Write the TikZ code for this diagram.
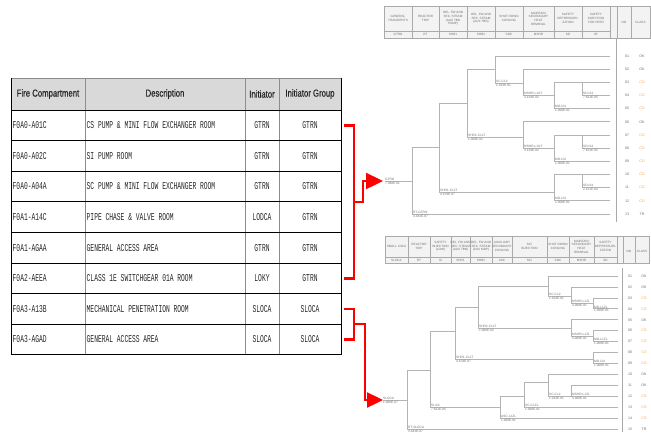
\documentclass[tikz,border=0pt]{standalone}
\usepackage{fontspec}
\setmainfont{Liberation Sans}
\newfontfamily\cellfont[FakeStretch=0.6]{Liberation Mono}
\newfontfamily\hdrfont[FakeStretch=0.76,FakeBold=0.5]{Liberation Sans}
\usetikzlibrary{arrows.meta}
\definecolor{hdrfill}{HTML}{D9D9D9}
\definecolor{colline}{HTML}{8C8C8C}
\definecolor{treeline}{HTML}{B4B4B4}
\definecolor{treetext}{HTML}{6E6E6E}
\definecolor{etfill}{HTML}{F3F3F3}
\definecolor{etline}{HTML}{AAAAAA}
\definecolor{cdorange}{HTML}{F2A65A}
\definecolor{linkred}{HTML}{FF0000}
\tikzset{
 hdrtext/.style={font={\hdrfont\fontsize{10.2}{12}\selectfont}, text=black!85, inner sep=0pt},
 celltext/.style={font={\cellfont\fontsize{10.5}{12}\selectfont}, text=black!85, inner sep=0pt},
 tl/.style={font={\fontsize{3.2}{3.4}\selectfont}, text=treetext, inner sep=0pt},
 seqtext/.style={font={\fontsize{3.6}{4}\selectfont}, text=treetext, inner sep=0pt},
 th/.style={font={\fontsize{3.1}{3.7}\selectfont}, text=treetext, inner sep=0pt, align=center},
 tline/.style={draw=treeline, line width=0.8pt, line cap=rect},
 hline/.style={draw=etline, line width=0.5pt},
 redlink/.style={draw=linkred, line width=2.4pt},
}
\newcommand\brlab[5]{%
 \node[tl,anchor=south west] (#1a) at (#2+1,#3-0.6) {#4};
 \node[tl,anchor=north west] (#1b) at (#2+1,#3+0.7) {#5};}
\begin{document}
\begin{tikzpicture}[x=1pt,y=-1pt]
\useasboundingbox (0,0) rectangle (651,432);

% ---------------- left table ----------------
\fill[hdrfill] (11,78) rectangle (341,110);
\foreach \xx in {85,245,279} \draw[colline, line width=1pt] (\xx,78) -- (\xx,355);
\foreach \yy in {110,140.6,171.2,201.8,232.4,263,293.6,324.2,354.8}
  \draw[black, line width=0.8pt] (11,\yy) -- (341,\yy);
\draw[colline, line width=0.6pt] (11,78) -- (341,78);
\draw[black, line width=0.6pt] (11,78) -- (11,355) (341,78) -- (341,355);

\node[hdrtext] (h1) at (48,94) {Fire Compartment};
\node[hdrtext] (h2) at (165,94) {Description};
\node[hdrtext] (h3) at (262,94) {Initiator};
\node[hdrtext] (h4) at (310,94) {Initiator Group};

\foreach \fc/\desc/\ini/\grp [count=\i] in {
  F0A0-A01C/{CS PUMP \& MINI FLOW EXCHANGER ROOM}/GTRN/GTRN,
  F0A0-A02C/{SI PUMP ROOM}/GTRN/GTRN,
  F0A0-A04A/{SC PUMP \& MINI FLOW EXCHANGER ROOM}/GTRN/GTRN,
  F0A1-A14C/{PIPE CHASE \& VALVE ROOM}/LODCA/GTRN,
  F0A1-AGAA/{GENERAL ACCESS AREA}/GTRN/GTRN,
  F0A2-AEEA/{CLASS 1E SWITCHGEAR 01A ROOM}/LOKY/GTRN,
  F0A3-A13B/{MECHANICAL PENETRATION ROOM}/SLOCA/SLOCA,
  F0A3-AGAD/{GENERAL ACCESS AREA}/SLOCA/SLOCA}{
  \pgfmathsetmacro\yc{125.3+(\i-1)*30.6}
  \node[celltext, anchor=west] (fc\i) at (12.5,\yc) {\fc};
  \node[celltext, anchor=west] (ds\i) at (86.5,\yc) {\desc};
  \node[celltext] (in\i) at (262,\yc) {\ini};
  \node[celltext] (gr\i) at (310,\yc) {\grp};
}

% ---------------- top event tree header ----------------
\fill[etfill] (384,6) rectangle (650,38);
\draw[hline] (384,6) rectangle (650,38);
\draw[hline] (384,31) -- (610,31);
\foreach \xx in {412,439,467,495,523,554,582,610,617,631} \draw[hline] (\xx,6) -- (\xx,38);
\foreach \xc/\txt/\code [count=\i] in {
  398/{GENERAL\\TRANSIENTS}/GTRN,
  425.5/{REACTOR\\TRIP}/RT,
  453/{DEL. FW AND\\SEC. STEAM\\(AUX TBN\\PUMP)}/SHR1,
  481/{DEL. FW AND\\SEC. STEAM\\(AUX TBN)}/SHR2,
  509/{SHUT DOWN\\COOLING}/SDC,
  538.5/{MAINTAIN\\SECONDARY\\HEAT\\REMOVAL}/MSHR,
  568/{SAFETY\\DEPRESSURI-\\ZATION}/SD,
  596/{SAFETY\\INJECTION\\FOR FEED}/SF}{
  \node[th] (tth\i) at (\xc,18.5) {\txt};
  \node[th] (ttc\i) at (\xc,34.5) {\code};
}
\node[th] (ttno) at (624,22) {NO};
\node[th] (ttcl) at (640.5,22) {CLASS};
\draw[hline] (616,38) -- (616,222);

% ---------------- top event tree ----------------
\draw[tline]
 (385,181)--(412,181)
 (412,147)--(412,214) (412,147)--(439,147) (412,214)--(610,214)
 (439,103)--(439,192) (439,103)--(467,103) (439,192)--(554,192)
 (467,69.2)--(467,137) (467,69.2)--(495,69.2) (467,137)--(523,137)
 (495,56)--(495,83) (495,56)--(610,56) (495,83)--(523,83)
 (523,69.2)--(523,95.5) (523,69.2)--(610,69.2) (523,95.5)--(554,95.5)
 (554,82.3)--(554,108.7) (554,82.3)--(582,82.3) (554,108.7)--(610,108.7)
 (582,82.3)--(582,95.5) (582,82.3)--(610,82.3) (582,95.5)--(610,95.5)
 (523,121.8)--(523,148.2) (523,121.8)--(610,121.8) (523,148.2)--(554,148.2)
 (554,135)--(554,161.3) (554,135)--(582,135) (554,161.3)--(610,161.3)
 (582,135)--(582,148.2) (582,135)--(610,135) (582,148.2)--(610,148.2)
 (554,174.5)--(554,200.8) (554,174.5)--(582,174.5) (554,200.8)--(610,200.8)
 (582,174.5)--(582,187.7) (582,174.5)--(610,174.5) (582,187.7)--(610,187.7);
\brlab{gt}{384}{181}{GTRN}{7.360E-01}
\brlab{ta}{412}{214}{RT-GTRN}{3.441E-07}
\brlab{tb}{439}{192}{SHR1-C1LT}{4.679E-07}
\brlab{tc}{467}{137}{SHR2-C1LT}{1.000E-02}
\brlab{td}{495}{83}{SC-C12}{1.013E-01}
\brlab{te}{523}{95.5}{MSHR-L1ILT}{3.134E-02}
\brlab{tf}{554}{108.7}{MO-I24}{1.000E-01}
\brlab{tg}{582}{95.5}{SD-I24}{7.621E-05}
\brlab{th}{523}{148.2}{MSHR-L1ILT}{3.134E-02}
\brlab{ti}{554}{161.3}{MO-I24}{1.000E-01}
\brlab{tj}{582}{148.2}{SD-I24}{7.621E-05}
\brlab{tk}{554}{200.8}{MO-I24}{1.000E-01}
\brlab{tm}{582}{187.7}{SD-I24}{2.121E-04}
\foreach \n/\c/\col [count=\i] in {01/OK/treetext,02/OK/treetext,03/CD/cdorange,04/CD/cdorange,
  05/CD/cdorange,06/OK/treetext,07/CD/cdorange,08/CD/cdorange,09/CD/cdorange,10/CD/cdorange,
  11/CD/cdorange,12/CD/cdorange,13/TR/treetext}{
  \pgfmathsetmacro\yc{56+(\i-1)*13.1667}
  \node[seqtext] (tn\i) at (627,\yc) {\n};
  \node[seqtext, text=\col] (tcl\i) at (642,\yc) {\c};
}

% ---------------- bottom event tree header ----------------
\fill[etfill] (385,236) rectangle (649,263);
\draw[hline] (385,236) rectangle (649,263);
\draw[hline] (385,257) -- (617,257);
\foreach \xx in {408,430,451,470,492,512,547,569,594,617,623,635} \draw[hline] (\xx,236) -- (\xx,263);
\foreach \xc/\txt/\code [count=\i] in {
  396.5/{SMALL LOCA}/SLOCA,
  419/{REACTOR\\TRIP}/RT,
  440.5/{SAFETY\\INJECTION\\(LOW)}/SI,
  460.5/{DEL. FW AND\\SEC. STEAM\\(AUX TBN)}/SHR1,
  481/{DEL. FW AND\\SEC. STEAM\\(AUX MDP)}/SHR2,
  502/{AUXILIARY\\SECONDARY\\COOLING}/ASC,
  529.5/{SCI\\INJECTION}/SCI,
  558/{SHUT DOWN\\COOLING}/SDC,
  581.5/{MAINTAIN\\SECONDARY\\HEAT\\REMOVAL}/MSHR,
  605.5/{SAFETY\\DEPRESSURI-\\ZATION}/SD}{
  \node[th] (bth\i) at (\xc,246.5) {\txt};
  \node[th] (btc\i) at (\xc,260) {\code};
}
\node[th] (btno) at (629,251) {NO};
\node[th] (btcl) at (642,251) {CLASS};
\draw[hline] (622,268) -- (622,432);

% ---------------- bottom event tree ----------------
\draw[tline]
 (383,400)--(407,400)
 (407,370)--(407,429.3) (407,370)--(430,370) (407,429.3)--(618,429.3)
 (430,331.7)--(430,407.4) (430,331.7)--(455,331.7) (430,407.4)--(500,407.4)
 (455,307.3)--(455,359.3) (455,307.3)--(478,307.3) (455,359.3)--(593,359.3)
 (478,286)--(478,328.3) (478,286)--(548,286) (478,328.3)--(571,328.3)
 (548,276)--(548,296.7) (548,276)--(618,276) (548,296.7)--(571,296.7)
 (571,286.95)--(571,303.3) (571,286.95)--(618,286.95) (571,303.3)--(593,303.3)
 (593,297.9)--(593,308.85) (593,297.9)--(618,297.9) (593,308.85)--(618,308.85)
 (571,319.8)--(571,336.7) (571,319.8)--(618,319.8) (571,336.7)--(593,336.7)
 (593,330.75)--(593,341.7) (593,330.75)--(618,330.75) (593,341.7)--(618,341.7)
 (593,352.65)--(593,363.6) (593,352.65)--(618,352.65) (593,363.6)--(618,363.6)
 (500,396.45)--(500,418.35) (500,396.45)--(524,396.45) (500,418.35)--(618,418.35)
 (524,382.7)--(524,407.4) (524,382.7)--(548,382.7) (524,407.4)--(618,407.4)
 (548,374.55)--(548,396.45) (548,374.55)--(618,374.55) (548,396.45)--(571,396.45)
 (571,385.5)--(571,396.45) (571,385.5)--(618,385.5) (571,396.45)--(618,396.45);
\brlab{sl}{382}{400}{SLOCA}{1.006E-07}
\brlab{ba}{407}{429.3}{RT-SLOCA}{3.441E-07}
\brlab{bb}{430}{407.4}{SI-I24}{7.621E-05}
\brlab{bc}{455}{359.3}{SHR1-C1LT}{4.679E-07}
\brlab{bd}{478}{328.3}{SHR2-C1LT}{1.000E-02}
\brlab{be}{548}{296.7}{SC-C12}{1.013E-01}
\brlab{bf}{571}{303.3}{MSHR-L1ZL}{3.000E-01}
\brlab{bg}{593}{308.85}{MO-L1ZL}{1.000E-01}
\brlab{bh}{571}{336.7}{MSHR-L1ZL}{3.000E-01}
\brlab{bi}{593}{341.7}{MO-L1ZL}{1.000E-01}
\brlab{bj}{593}{363.6}{MO-I24}{1.000E-01}
\brlab{bk}{500}{418.35}{ASC-L1ZL}{1.000E-01}
\brlab{bm}{524}{407.4}{SC-C1ZL}{1.000E-01}
\brlab{bn}{548}{396.45}{SC-C12}{1.013E-01}
\brlab{bo}{571}{396.45}{MSHR-L1ZL}{3.000E-01}
\foreach \n/\c/\col [count=\i] in {01/OK/treetext,02/OK/treetext,03/CD/cdorange,04/CD/cdorange,
  05/OK/treetext,06/CD/cdorange,07/CD/cdorange,08/CD/cdorange,09/CD/cdorange,10/OK/treetext,
  11/OK/treetext,12/CD/cdorange,13/CD/cdorange,14/CD/cdorange,15/TR/treetext}{
  \pgfmathsetmacro\yc{276+(\i-1)*10.95}
  \node[seqtext] (bn\i) at (630,\yc) {\n};
  \node[seqtext, text=\col] (bcl\i) at (644,\yc) {\c};
}

% ---------------- red links ----------------
\coordinate (tbA) at (344,125.3);
\coordinate (tbB) at (344,278.3);
\coordinate (tbM) at (354,201.8);
\coordinate (gtin) at (383,181);
\coordinate (bbA) at (344,308.9);
\coordinate (bbB) at (344,339.5);
\coordinate (bbM) at (354,324.2);
\coordinate (slin) at (383,400);
\draw[redlink, line join=miter] (tbA) -- ++(10,0) -- ++(0,153) -- (tbB);
\draw[redlink, -{Triangle[length=17pt,width=16pt]}] (tbM) -- ++(9,0) |- (gtin);
\draw[redlink, line join=miter] (bbA) -- ++(10,0) -- ++(0,30.6) -- (bbB);
\draw[redlink, -{Triangle[length=16pt,width=15pt]}] (bbM) -- ++(11,0) |- (slin);
\end{tikzpicture}
\end{document}
